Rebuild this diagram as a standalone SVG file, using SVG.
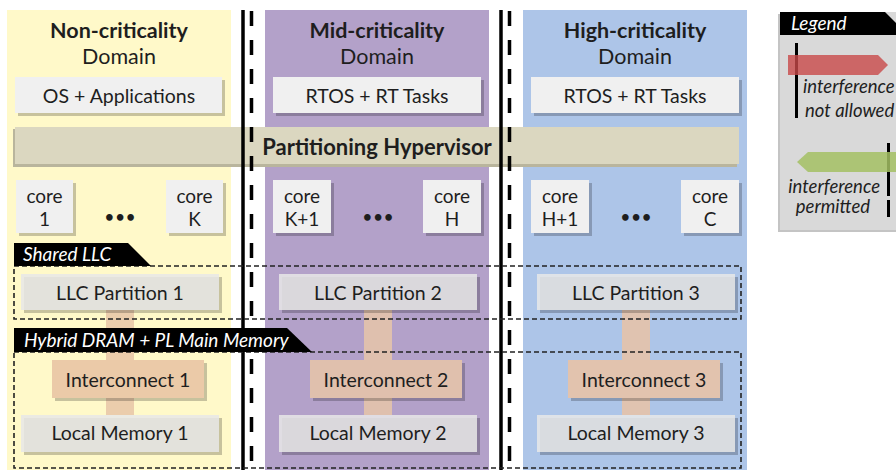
<svg xmlns="http://www.w3.org/2000/svg" width="896" height="470" viewBox="0 0 896 470">
<style>
text{font-family:Lato,"Open Sans","Liberation Sans",sans-serif;fill:#1e1e1e}
.t{font-size:21.5px;text-anchor:middle}
.b{font-weight:bold}
.bx{font-size:19.5px;text-anchor:middle}
.cx{font-size:19px;text-anchor:middle}
.dots{font-size:15px;text-anchor:middle;letter-spacing:2px}
.box{fill:#f0f0f0}
.mem{fill:#e8e8e8;fill-opacity:0.85}
.sh{fill:#000;fill-opacity:0.22}
.tab{fill:#000}
.tabt{font-size:19px;font-style:italic;fill:#fff}
.dbox{fill:none;stroke:#222;stroke-width:1.6;stroke-dasharray:5 3}
.sep{stroke:#000;stroke-width:3.5}
.sepd{stroke:#000;stroke-width:3.5;stroke-dasharray:15 14}
.lg{font-size:18.5px;font-style:italic}
</style>
<rect width="896" height="470" fill="#fff"/>
<!-- column backgrounds -->
<g id="col-non">
<rect x="7" y="10" width="224" height="460" fill="#fff9c9"/>
</g>
<g id="col-mid">
<rect x="265" y="10" width="224" height="460" fill="#b3a1c9"/>
</g>
<g id="col-high">
<rect x="523" y="10" width="224" height="460" fill="#adc5e8"/>
</g>
<!-- titles -->
<g id="title-non"><text class="t b" x="119" y="38">Non-criticality</text><text class="t" x="119" y="64">Domain</text></g>
<g id="title-mid"><text class="t b" x="377" y="38">Mid-criticality</text><text class="t" x="377" y="64">Domain</text></g>
<g id="title-high"><text class="t b" x="635" y="38">High-criticality</text><text class="t" x="635" y="64">Domain</text></g>
<!-- software boxes -->
<g id="os-apps"><rect class="sh" x="18" y="80" width="207" height="36"/><rect class="box" x="15" y="77" width="207" height="36"/><text class="bx" x="119" y="103">OS + Applications</text></g>
<g id="rtos-mid"><rect class="sh" x="276" y="80" width="208" height="36"/><rect class="box" x="273" y="77" width="208" height="36"/><text class="bx" x="377" y="103">RTOS + RT Tasks</text></g>
<g id="rtos-high"><rect class="sh" x="534" y="80" width="208" height="36"/><rect class="box" x="531" y="77" width="208" height="36"/><text class="bx" x="635" y="103">RTOS + RT Tasks</text></g>
<!-- hypervisor -->
<g id="hypervisor"><rect x="13" y="129" width="724" height="38" fill="#b9b59d"/><rect x="15" y="127" width="724" height="37" fill="#dbd7c0"/><text class="b" x="377" y="155" font-size="22" text-anchor="middle">Partitioning Hypervisor</text></g>
<!-- separators -->
<g id="separators">
<line class="sep" x1="243" y1="10" x2="243" y2="470"/>
<line class="sepd" x1="251.5" y1="11" x2="251.5" y2="470"/>
<line class="sep" x1="501" y1="10" x2="501" y2="470"/>
<line class="sepd" x1="509.5" y1="11" x2="509.5" y2="470"/>
</g>
<!-- cores -->
<g id="core-1"><rect class="sh" x="19" y="183" width="57" height="53"/><rect class="box" x="16" y="180" width="57" height="53"/><text class="cx" x="44.5" y="203">core</text><text class="cx" x="44.5" y="226">1</text></g>
<g id="dots-1"><text class="dots b" x="121" y="222">•••</text></g>
<g id="core-K"><rect class="sh" x="169" y="183" width="57" height="53"/><rect class="box" x="166" y="180" width="57" height="53"/><text class="cx" x="194.5" y="203">core</text><text class="cx" x="194.5" y="226">K</text></g>
<g id="core-K1"><rect class="sh" x="276" y="183" width="58" height="53"/><rect class="box" x="273" y="180" width="58" height="53"/><text class="cx" x="302" y="203">core</text><text class="cx" x="302" y="226">K+1</text></g>
<g id="dots-2"><text class="dots b" x="379" y="222">•••</text></g>
<g id="core-H"><rect class="sh" x="426" y="183" width="58" height="53"/><rect class="box" x="423" y="180" width="58" height="53"/><text class="cx" x="452" y="203">core</text><text class="cx" x="452" y="226">H</text></g>
<g id="core-H1"><rect class="sh" x="534" y="183" width="58" height="53"/><rect class="box" x="531" y="180" width="58" height="53"/><text class="cx" x="560" y="203">core</text><text class="cx" x="560" y="226">H+1</text></g>
<g id="dots-3"><text class="dots b" x="637" y="222">•••</text></g>
<g id="core-C"><rect class="sh" x="684" y="183" width="58" height="53"/><rect class="box" x="681" y="180" width="58" height="53"/><text class="cx" x="710" y="203">core</text><text class="cx" x="710" y="226">C</text></g>
<!-- connectors -->
<g id="connectors">
<rect x="106" y="310" width="28" height="105" fill="#ebcdac"/>
<rect x="364" y="310" width="28" height="105" fill="#dfc0ae"/>
<rect x="622" y="310" width="28" height="105" fill="#e0c3b0"/>
</g>
<!-- LLC partitions -->
<g id="llc-1"><rect class="sh" x="24" y="277" width="198" height="36"/><rect class="mem" x="21" y="274" width="198" height="36"/><text class="bx" x="120" y="300">LLC Partition 1</text></g>
<g id="llc-2"><rect class="sh" x="282" y="277" width="198" height="36"/><rect class="mem" x="279" y="274" width="198" height="36"/><text class="bx" x="378" y="300">LLC Partition 2</text></g>
<g id="llc-3"><rect class="sh" x="540" y="277" width="198" height="36"/><rect class="mem" x="537" y="274" width="198" height="36"/><text class="bx" x="636" y="300">LLC Partition 3</text></g>
<!-- interconnects -->
<g id="ic-1"><rect class="sh" x="55" y="363" width="152" height="38"/><rect x="52" y="360" width="152" height="38" fill="#ebcaa8"/><text class="bx" x="128" y="387">Interconnect 1</text></g>
<g id="ic-2"><rect class="sh" x="313" y="363" width="152" height="38"/><rect x="310" y="360" width="152" height="38" fill="#e0c0ad"/><text class="bx" x="386" y="387">Interconnect 2</text></g>
<g id="ic-3"><rect class="sh" x="571" y="363" width="152" height="38"/><rect x="568" y="360" width="152" height="38" fill="#e2c3ae"/><text class="bx" x="644" y="387">Interconnect 3</text></g>
<!-- local memories -->
<g id="mem-1"><rect class="sh" x="24" y="418" width="198" height="37"/><rect class="mem" x="21" y="415" width="198" height="37"/><text class="bx" x="120" y="440">Local Memory 1</text></g>
<g id="mem-2"><rect class="sh" x="282" y="418" width="198" height="37"/><rect class="mem" x="279" y="415" width="198" height="37"/><text class="bx" x="378" y="440">Local Memory 2</text></g>
<g id="mem-3"><rect class="sh" x="540" y="418" width="198" height="37"/><rect class="mem" x="537" y="415" width="198" height="37"/><text class="bx" x="636" y="440">Local Memory 3</text></g>
<!-- dashed groups -->
<g id="shared-llc">
<rect class="dbox" x="14" y="266" width="727" height="53"/>
<polygon class="tab" points="14,243 128,243 151,266 14,266"/>
<text class="tabt" x="23" y="261">Shared LLC</text>
</g>
<g id="main-memory">
<rect class="dbox" x="14" y="352" width="727" height="116"/>
<polygon class="tab" points="14,328 287,328 312,352 14,352"/>
<text class="tabt" x="24" y="347">Hybrid DRAM + PL Main Memory</text>
</g>
<!-- legend -->
<g id="legend">
<rect x="778" y="14" width="120" height="218" fill="#c4c4c4"/>
<rect x="780" y="12" width="120" height="218" fill="#d9d9d9"/>
<polygon class="tab" points="780,12 885,12 908,35 780,35"/>
<text class="tabt" x="791" y="30" font-size="18">Legend</text>
<line x1="796.5" y1="43" x2="796.5" y2="118" stroke="#000" stroke-width="3"/>
<polygon points="788,55 878,55 888,65 878,75 788,75" fill="#c84848" fill-opacity="0.8"/>
<text class="lg" x="803" y="93">interference</text>
<text class="lg" x="805" y="117">not allowed</text>
<line x1="888.5" y1="143" x2="888.5" y2="196" stroke="#000" stroke-width="3"/>
<line x1="888.5" y1="200" x2="888.5" y2="217" stroke="#000" stroke-width="3"/>
<polygon points="797,162 808,152 900,152 900,172 808,172" fill="#a3c063" fill-opacity="0.85"/>
<text class="lg" x="880" y="193" text-anchor="end">interference</text>
<text class="lg" x="833" y="213" text-anchor="middle">permitted</text>
</g>
</svg>
